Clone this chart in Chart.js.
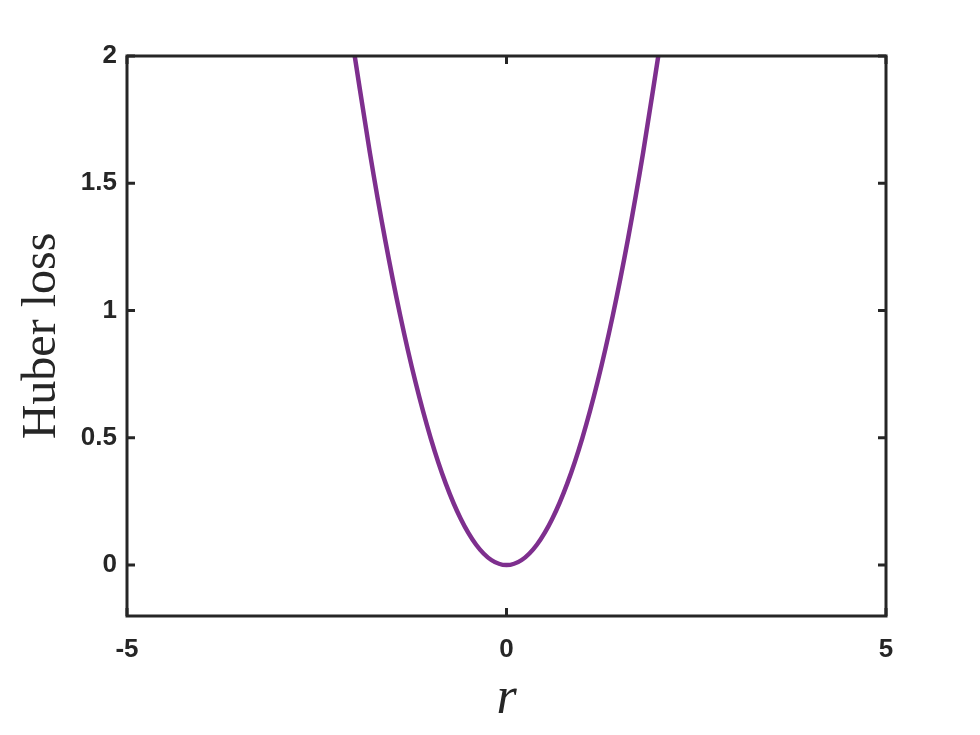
<!DOCTYPE html>
<html>
<head>
<meta charset="utf-8">
<script src="https://cdn.jsdelivr.net/npm/chart.js@4"></script>
<style>
  html, body { margin: 0; padding: 0; background: #ffffff; }
  #wrap { width: 980px; height: 735px; }
</style>
</head>
<body>
<div id="wrap"><canvas id="myChart" width="980" height="735"></canvas></div>
<script>
// residuals r and the Huber loss
const rValues = [-2, -1.8, -1.6, -1.4, -1.2, -1, -0.8, -0.6, -0.4, -0.2, 0,
                 0.2, 0.4, 0.6, 0.8, 1, 1.2, 1.4, 1.6, 1.8, 2];
const lossValues = [2, 1.62, 1.28, 0.98, 0.72, 0.5, 0.32, 0.18, 0.08, 0.02, 0,
                    0.02, 0.08, 0.18, 0.32, 0.5, 0.72, 0.98, 1.28, 1.62, 2];
const xTicks = [-5, 0, 5];
const yTicks = [0, 0.5, 1, 1.5, 2];

const axisColor = '#262626';

// frame and inward tick marks on all four sides
const boxPlugin = {
  id: 'box',
  afterDraw(chart) {
    const ctx = chart.ctx;
    const a = chart.chartArea;
    const xs = chart.scales.x, ys = chart.scales.y;
    const len = 8;
    ctx.save();
    ctx.strokeStyle = axisColor;
    ctx.lineWidth = 3;
    ctx.beginPath();
    xTicks.forEach(v => {
      const px = xs.getPixelForValue(v);
      ctx.moveTo(px, a.bottom); ctx.lineTo(px, a.bottom - len);
      ctx.moveTo(px, a.top); ctx.lineTo(px, a.top + len);
    });
    yTicks.forEach(v => {
      const py = ys.getPixelForValue(v);
      ctx.moveTo(a.left, py); ctx.lineTo(a.left + len, py);
      ctx.moveTo(a.right, py); ctx.lineTo(a.right - len, py);
    });
    ctx.stroke();
    ctx.strokeRect(a.left, a.top, a.right - a.left, a.bottom - a.top);
    ctx.restore();
  }
};

let dataChart = {
  datasets: [{
    data: rValues.map((r, i) => ({ x: r, y: lossValues[i] })),
    borderColor: '#7E2F8E',
    borderWidth: 4.5,
    pointRadius: 0,
    showLine: true,
    cubicInterpolationMode: 'monotone'
  }]
};

let options = {
  responsive: false,
  animation: false,
  layout: { padding: { left: 0, right: 94, top: 56, bottom: 0 } },
  plugins: { legend: { display: false }, tooltip: { enabled: false } },
  scales: {
    x: {
      type: 'linear',
      min: -5,
      max: 5,
      afterBuildTicks: s => { s.ticks = xTicks.map(v => ({ value: v })); },
      afterFit: s => { s.height = 119; },
      grid: { display: false, drawTicks: false },
      border: { display: false },
      ticks: {
        color: axisColor,
        padding: 18,
        callback: v => String(v),
        font: { family: 'Liberation Sans', size: 26, weight: 'bold' }
      },
      title: {
        display: true,
        text: 'r',
        color: axisColor,
        padding: { top: 0, bottom: 4 },
        font: { family: 'Liberation Serif', size: 52, style: 'italic' }
      }
    },
    y: {
      min: -0.2,
      max: 2,
      afterBuildTicks: s => { s.ticks = yTicks.map(v => ({ value: v })); },
      afterFit: s => { s.width = 127; },
      grid: { display: false, drawTicks: false },
      border: { display: false },
      ticks: {
        color: axisColor,
        padding: 10,
        callback: v => String(v),
        font: { family: 'Liberation Sans', size: 26, weight: 'bold' }
      },
      title: {
        display: true,
        text: 'Huber loss',
        color: axisColor,
        padding: { top: 14, bottom: 0 },
        font: { family: 'Liberation Serif', size: 48 }
      }
    }
  }
};

let ctx = document.getElementById('myChart').getContext('2d');
let myChart = new Chart(ctx, {
  type: 'scatter',
  data: dataChart,
  options: options,
  plugins: [boxPlugin]
});
</script>
</body>
</html>
